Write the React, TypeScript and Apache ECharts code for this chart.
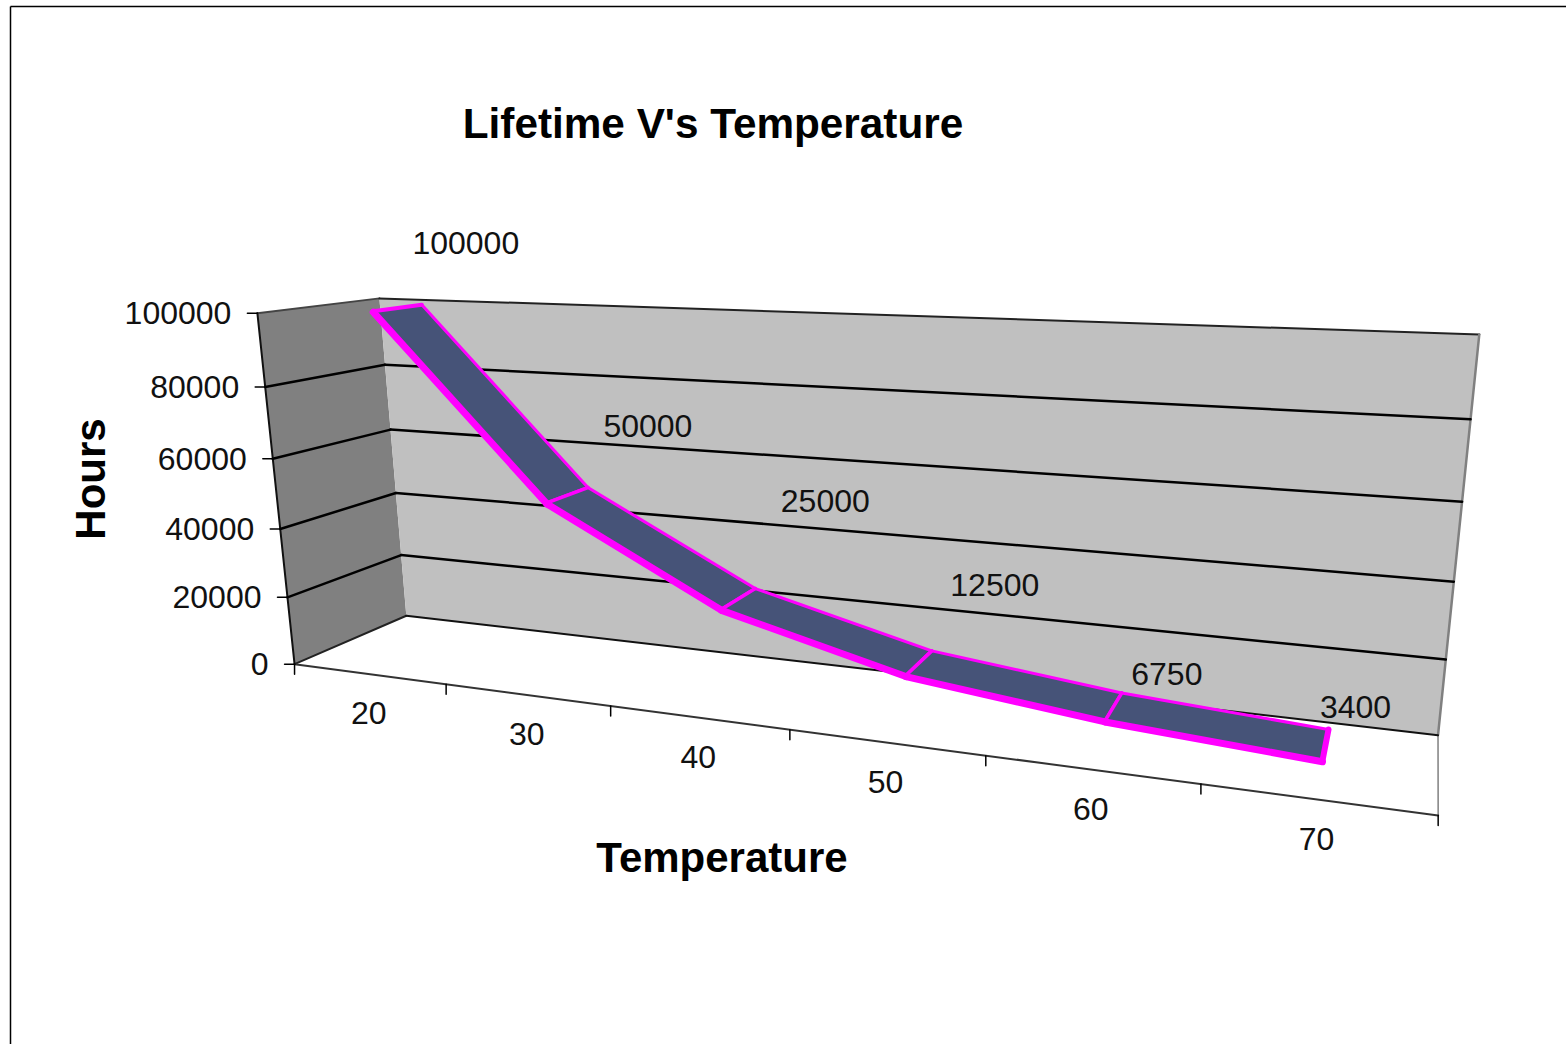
import React, { useEffect, useRef } from "react";
import * as echarts from "echarts";

const categories = ["20", "30", "40", "50", "60", "70"];
const lifetimeHours = [100000, 50000, 25000, 12500, 6750, 3400];
const hourTicks = [0, 20000, 40000, 60000, 80000, 100000];

const titleText = "Lifetime V's Temperature";
const xName = "Temperature";
const yName = "Hours";

// camera calibration: [u (category widths), v (share of axis), w (depth)] -> pixel
const calibration: number[][] = [
  [0, 0, 0, 295, 664], [1, 0, 0, 447, 684], [2, 0, 0, 611, 706], [3, 0, 0, 790, 731],
  [4, 0, 0, 986, 757], [5, 0, 0, 1200, 785], [6, 0, 0, 1438, 815],
  [0, 0.2, 0, 287, 597], [0, 0.4, 0, 280, 527], [0, 0.6, 0, 273, 458], [0, 0.8, 0, 265, 387], [0, 1, 0, 257, 314],
  [0, 0, 1, 406, 616], [0, 0.2, 1, 401, 555], [0, 0.4, 1, 396, 493], [0, 0.6, 1, 390, 430], [0, 0.8, 1, 385, 366], [0, 1, 1, 380, 298],
  [6, 0, 1, 1438, 735], [6, 0.2, 1, 1446, 659], [6, 0.4, 1, 1454, 581], [6, 0.6, 1, 1462, 501], [6, 0.8, 1, 1470, 419], [6, 1, 1, 1480, 335],
];

function solveCamera(): number[] {
  const n = 11;
  const A = Array.from({ length: n }, () => new Array(n + 1).fill(0));
  const add = (r: number[], b: number) => {
    for (let i = 0; i < n; i++) {
      for (let j = 0; j < n; j++) A[i][j] += r[i] * r[j];
      A[i][n] += r[i] * b;
    }
  };
  for (const [u, v, w, px, py] of calibration) {
    const x = px / 1000;
    const y = py / 1000;
    add([u, v, w, 1, 0, 0, 0, 0, -x * u, -x * v, -x * w], x);
    add([0, 0, 0, 0, u, v, w, 1, -y * u, -y * v, -y * w], y);
  }
  for (let c = 0; c < n; c++) {
    let p = c;
    for (let r = c + 1; r < n; r++) if (Math.abs(A[r][c]) > Math.abs(A[p][c])) p = r;
    [A[c], A[p]] = [A[p], A[c]];
    for (let r = 0; r < n; r++) {
      if (r === c) continue;
      const f = A[r][c] / A[c][c];
      for (let k = c; k <= n; k++) A[r][k] -= f * A[c][k];
    }
  }
  return A.map((row, i) => row[n] / row[i]);
}

const cam = solveCamera();
const project = (u: number, v: number, w: number): number[] => {
  const d = cam[8] * u + cam[9] * v + cam[10] * w + 1;
  return [
    (1000 * (cam[0] * u + cam[1] * v + cam[2] * w + cam[3])) / d,
    (1000 * (cam[4] * u + cam[5] * v + cam[6] * w + cam[7])) / d,
  ];
};

const FONT = '"Liberation Sans", Arial, sans-serif';
const RIBBON_FRONT = 0.3;
const RIBBON_BACK = 0.72;
const labelFont = `32px ${FONT}`;
const boldFont = `bold 42px ${FONT}`;
// data-label shift from the ribbon's back edge, as the reference places them
const dataLabelShift = [[44, -62], [60, -62], [70, -88], [63, -66], [45, -19], [27, -22]];

const toPlane = (params: any, api: any, idx: number, value: number) => {
  const cs = params.coordSys;
  const p = api.coord([idx, value]);
  return [((p[0] - cs.x) / cs.width) * categories.length, (cs.y + cs.height - p[1]) / cs.height];
};

const line = (a: number[], b: number[], stroke: string, lineWidth: number) => ({
  type: "line",
  shape: { x1: a[0], y1: a[1], x2: b[0], y2: b[1] },
  style: { stroke, lineWidth, lineCap: "round" },
});
const poly = (points: number[][], fill: string) => ({ type: "polygon", shape: { points }, style: { fill } });
const text = (t: string, x: number, y: number, align: string) => ({
  type: "text",
  style: { text: t, x, y, font: labelFont, fill: "#111", textAlign: align, textVerticalAlign: "middle" },
});

export default function App() {
  const ref = useRef<HTMLDivElement>(null);
  useEffect(() => {
    const chart = echarts.init(ref.current!, undefined, { renderer: "svg" });
    const U = categories.length;
    chart.setOption({
      animation: false,
      backgroundColor: "#fff",
      grid: { left: 400, top: 300, width: 900, height: 400 },
      xAxis: { type: "category", data: categories, show: false },
      yAxis: { type: "value", min: 0, max: 100000, interval: 20000, show: false },
      graphic: [
        { type: "line", shape: { x1: 10.5, y1: 6.5, x2: 1566, y2: 6.5 }, style: { stroke: "#000", lineWidth: 1.5 } },
        { type: "line", shape: { x1: 10.5, y1: 6.5, x2: 10.5, y2: 1044 }, style: { stroke: "#000", lineWidth: 1.5 } },
        { type: "text", style: { text: titleText, x: 713, y: 123, font: `bold 42.3px ${FONT}`, fill: "#000", textAlign: "center", textVerticalAlign: "middle" } },
        { type: "text", style: { text: xName, x: 722, y: 857, font: boldFont, fill: "#000", textAlign: "center", textVerticalAlign: "middle" } },
        { type: "text", x: 90, y: 479, rotation: Math.PI / 2, style: { text: yName, x: 0, y: 0, font: boldFont, fill: "#000", textAlign: "center", textVerticalAlign: "middle" } },
      ],
      series: [
        {
          type: "custom",
          coordinateSystem: "cartesian2d",
          clip: false,
          silent: true,
          data: [[0, 0]],
          renderItem: () => ({
            type: "group",
            children: [
              poly([project(0, 1, 0), project(0, 1, 1), project(0, 0, 1), project(0, 0, 0)], "#808080"),
              poly([project(0, 1, 1), project(U, 1, 1), project(U, 0, 1), project(0, 0, 1)], "#c0c0c0"),
              line(project(0, 1, 0), project(0, 1, 1), "#444", 2),
              line(project(0, 1, 1), project(U, 1, 1), "#222", 2),
              line(project(U, 1, 1), project(U, 0, 1), "#808080", 2.5),
              line(project(U, 0, 1), project(U, 0, 0), "#808080", 1.5),
              line(project(0, 0, 0), project(0, 0, 1), "#222", 2),
              line(project(0, 0, 1), project(U, 0, 1), "#111", 2),
              line(project(0, 0, 0), project(U, 0, 0), "#333", 2),
              line(project(0, 1, 0), project(0, 0, 0), "#111", 2),
            ],
          }),
        },
        {
          type: "custom",
          coordinateSystem: "cartesian2d",
          clip: false,
          silent: true,
          data: hourTicks.map((v) => [0, v]),
          renderItem: (params: any, api: any) => {
            const value = api.value(1);
            const cs = params.coordSys;
            const v = (cs.y + cs.height - api.coord([0, value])[1]) / cs.height;
            const front = project(0, v, 0);
            const children: any[] = [
              line([front[0] - 10, front[1]], front, "#000", 1.5),
              text(String(value), front[0] - 26, front[1], "right"),
            ];
            if (value > 0 && value < 100000) {
              children.push(line(front, project(0, v, 1), "#000", 2.5));
              children.push(line(project(0, v, 1), project(U, v, 1), "#000", 2.5));
            }
            return { type: "group", children };
          },
        },
        {
          type: "custom",
          coordinateSystem: "cartesian2d",
          clip: false,
          silent: true,
          data: [...categories.map((_, i) => [i, 0]), [U - 1, 0]],
          renderItem: (params: any) => {
            const i = params.dataIndex;
            const p = project(i, 0, 0);
            const children: any[] = [line(p, [p[0], p[1] + 10], "#000", 1.5)];
            if (i < U) {
              const c = project(i + 0.5, 0, 0);
              children.push(text(categories[i], c[0], c[1] + 39.5, "center"));
            }
            return { type: "group", children };
          },
        },
        {
          type: "custom",
          name: "Lifetime",
          coordinateSystem: "cartesian2d",
          clip: false,
          silent: true,
          data: lifetimeHours.slice(0, -1).map((v, i) => [i, v]),
          renderItem: (params: any, api: any) => {
            const i = params.dataIndex;
            const [u0, v0] = toPlane(params, api, i, lifetimeHours[i]);
            const [u1, v1] = toPlane(params, api, i + 1, lifetimeHours[i + 1]);
            const f0 = project(u0, v0, RIBBON_FRONT);
            const f1 = project(u1, v1, RIBBON_FRONT);
            const b0 = project(u0, v0, RIBBON_BACK);
            const b1 = project(u1, v1, RIBBON_BACK);
            return {
              type: "group",
              children: [
                poly([f0, f1, b1, b0], "#465378"),
                line(b0, b1, "#ff00ff", 3),
                line(f0, b0, "#ff00ff", i === 0 ? 4 : 3.5),
                line(f1, b1, "#ff00ff", i === lifetimeHours.length - 2 ? 6 : 3.5),
                line([f0[0], f0[1] + 1], [f1[0], f1[1] + 1], "#ff00ff", 7),
              ],
            };
          },
        },
        {
          type: "custom",
          coordinateSystem: "cartesian2d",
          clip: false,
          silent: true,
          data: lifetimeHours.map((v, i) => [i, v]),
          renderItem: (params: any, api: any) => {
            const i = params.dataIndex;
            const [u, v] = toPlane(params, api, i, api.value(1));
            const b = project(u, v, RIBBON_BACK);
            const s = dataLabelShift[i];
            return text(String(lifetimeHours[i]), b[0] + s[0], b[1] + s[1], "center");
          },
        },
      ],
    });
    return () => chart.dispose();
  }, []);
  return <div ref={ref} style={{ position: "fixed", left: 0, top: 0, width: 1566, height: 1044 }} />;
}
